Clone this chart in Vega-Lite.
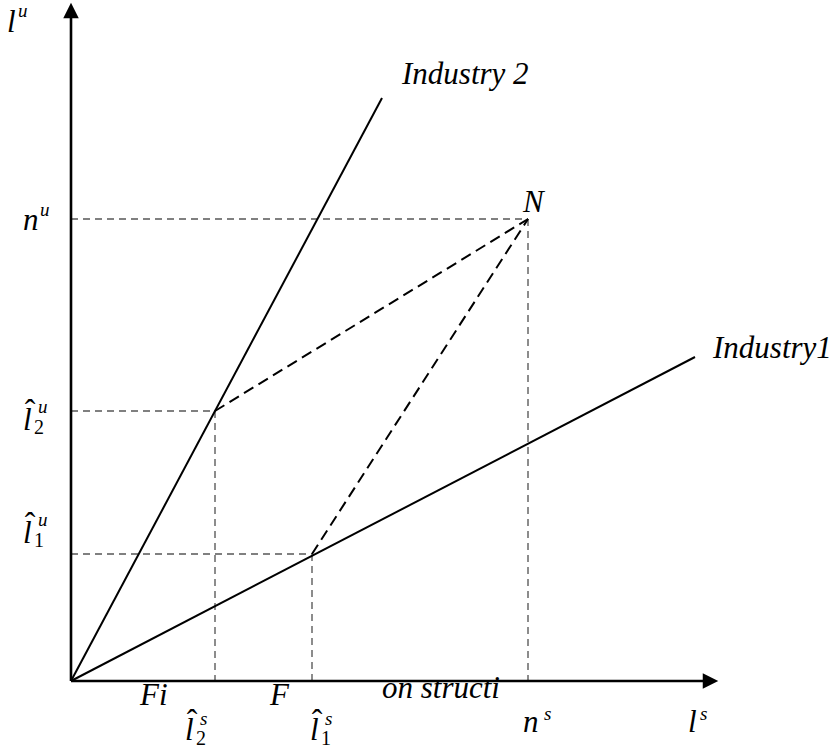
{
  "$schema": "https://vega.github.io/schema/vega-lite/v6.json",
  "width": 834,
  "height": 749,
  "autosize": {"type": "fit", "contains": "padding"},
  "padding": 0,
  "background": "white",
  "config": {"view": {"stroke": null}},
  "datasets": {
    "segs": [
      {"x1": 0, "y1": 0, "x2": 0, "y2": 66.3, "kind": "axis"},
      {"x1": 0, "y1": 0, "x2": 63.2, "y2": 0, "kind": "axis"},
      {"x1": 0, "y1": 0, "x2": 31.1, "y2": 58.3, "kind": "industry"},
      {"x1": 0, "y1": 0, "x2": 62.4, "y2": 32.4, "kind": "industry"},
      {"x1": 0, "y1": 46.2, "x2": 45.7, "y2": 46.2, "kind": "guide"},
      {"x1": 45.7, "y1": 46.2, "x2": 45.7, "y2": 0, "kind": "guide"},
      {"x1": 0, "y1": 27.0, "x2": 14.4, "y2": 27.0, "kind": "guide"},
      {"x1": 14.4, "y1": 27.0, "x2": 14.4, "y2": 0, "kind": "guide"},
      {"x1": 0, "y1": 12.7, "x2": 24.1, "y2": 12.7, "kind": "guide"},
      {"x1": 24.1, "y1": 12.7, "x2": 24.1, "y2": 0, "kind": "guide"},
      {"x1": 14.4, "y1": 27.0, "x2": 45.7, "y2": 46.2, "kind": "path"},
      {"x1": 24.1, "y1": 12.7, "x2": 45.7, "y2": 46.2, "kind": "path"}
    ],
    "arrows": [
      {"x": 0, "y": 67.05, "dir": "up"},
      {"x": 63.95, "y": 0, "dir": "right"}
    ],
    "labels": [
      {"text": "Industry 2", "x": 33.1, "y": 59.7, "role": "main"},
      {"text": "N", "x": 45.2, "y": 46.9, "role": "main"},
      {"text": "Industry1", "x": 64.2, "y": 32.3, "role": "main"},
      {"text": "l", "x": -6.4, "y": 64.9, "role": "main"},
      {"text": "u", "x": -5.3, "y": 66.4, "role": "sup"},
      {"text": "n", "x": -4.8, "y": 45.1, "role": "main"},
      {"text": "u", "x": -3.1, "y": 46.5, "role": "sup"},
      {"text": "l", "x": -4.8, "y": 25.1, "role": "main"},
      {"text": "ˆ", "x": -4.1, "y": 26.0, "role": "hat"},
      {"text": "2", "x": -3.7, "y": 24.7, "role": "sub"},
      {"text": "u", "x": -3.3, "y": 26.8, "role": "sup"},
      {"text": "l", "x": -4.8, "y": 13.8, "role": "main"},
      {"text": "ˆ", "x": -4.1, "y": 14.7, "role": "hat"},
      {"text": "1", "x": -3.7, "y": 13.4, "role": "sub"},
      {"text": "u", "x": -3.3, "y": 15.5, "role": "sup"},
      {"text": "l", "x": 11.4, "y": -5.9, "role": "main"},
      {"text": "ˆ", "x": 12.1, "y": -5.0, "role": "hat"},
      {"text": "s", "x": 12.9, "y": -4.4, "role": "sup"},
      {"text": "2", "x": 12.5, "y": -6.4, "role": "sub"},
      {"text": "l", "x": 23.9, "y": -5.9, "role": "main"},
      {"text": "ˆ", "x": 24.6, "y": -5.0, "role": "hat"},
      {"text": "s", "x": 25.4, "y": -4.4, "role": "sup"},
      {"text": "1", "x": 25.0, "y": -6.4, "role": "sub"},
      {"text": "n", "x": 45.2, "y": -5.1, "role": "main"},
      {"text": "s", "x": 47.3, "y": -3.9, "role": "sup"},
      {"text": "l", "x": 61.7, "y": -5.1, "role": "main"},
      {"text": "s", "x": 62.9, "y": -3.9, "role": "sup"},
      {"text": "Fi", "x": 6.9, "y": -2.4, "role": "main"},
      {"text": "F", "x": 19.9, "y": -2.4, "role": "main"},
      {"text": "on structi", "x": 31.1, "y": -1.7, "role": "main"}
    ]
  },
  "encoding": {
    "x": {"type": "quantitative", "scale": {"domain": [-7.1, 76.3], "nice": false, "zero": false}, "axis": null},
    "y": {"type": "quantitative", "scale": {"domain": [-6.8, 68.1], "nice": false, "zero": false}, "axis": null}
  },
  "layer": [
    {
      "data": {"name": "segs"},
      "transform": [{"filter": "datum.kind === 'guide'"}],
      "mark": {"type": "rule", "color": "#808080", "strokeWidth": 1.8, "strokeDash": [7, 5]},
      "encoding": {"x": {"field": "x1"}, "y": {"field": "y1"}, "x2": {"field": "x2"}, "y2": {"field": "y2"}}
    },
    {
      "data": {"name": "segs"},
      "transform": [{"filter": "datum.kind === 'path'"}],
      "mark": {"type": "rule", "color": "black", "strokeWidth": 2, "strokeDash": [11, 6]},
      "encoding": {"x": {"field": "x1"}, "y": {"field": "y1"}, "x2": {"field": "x2"}, "y2": {"field": "y2"}}
    },
    {
      "data": {"name": "segs"},
      "transform": [{"filter": "datum.kind === 'industry'"}],
      "mark": {"type": "rule", "color": "black", "strokeWidth": 2},
      "encoding": {"x": {"field": "x1"}, "y": {"field": "y1"}, "x2": {"field": "x2"}, "y2": {"field": "y2"}}
    },
    {
      "data": {"name": "segs"},
      "transform": [{"filter": "datum.kind === 'axis'"}],
      "mark": {"type": "rule", "color": "black", "strokeWidth": 2.6},
      "encoding": {"x": {"field": "x1"}, "y": {"field": "y1"}, "x2": {"field": "x2"}, "y2": {"field": "y2"}}
    },
    {
      "data": {"name": "arrows"},
      "transform": [{"filter": "datum.dir === 'up'"}],
      "mark": {"type": "point", "shape": "M-1,1L0,-1L1,1Z", "size": 240, "filled": true, "color": "black", "opacity": 1},
      "encoding": {"x": {"field": "x"}, "y": {"field": "y"}}
    },
    {
      "data": {"name": "arrows"},
      "transform": [{"filter": "datum.dir === 'right'"}],
      "mark": {"type": "point", "shape": "M-1,-1L1,0L-1,1Z", "size": 240, "filled": true, "color": "black", "opacity": 1},
      "encoding": {"x": {"field": "x"}, "y": {"field": "y"}}
    },
    {
      "data": {"name": "labels"},
      "transform": [{"filter": "datum.role === 'main'"}],
      "mark": {"type": "text", "font": "Liberation Serif", "fontStyle": "italic", "fontSize": 31, "align": "left", "baseline": "alphabetic", "color": "black"},
      "encoding": {"x": {"field": "x"}, "y": {"field": "y"}, "text": {"field": "text"}}
    },
    {
      "data": {"name": "labels"},
      "transform": [{"filter": "datum.role === 'sup'"}],
      "mark": {"type": "text", "font": "Liberation Serif", "fontStyle": "italic", "fontSize": 19, "align": "left", "baseline": "alphabetic", "color": "black"},
      "encoding": {"x": {"field": "x"}, "y": {"field": "y"}, "text": {"field": "text"}}
    },
    {
      "data": {"name": "labels"},
      "transform": [{"filter": "datum.role === 'sub'"}],
      "mark": {"type": "text", "font": "Liberation Serif", "fontSize": 20, "align": "left", "baseline": "alphabetic", "color": "black"},
      "encoding": {"x": {"field": "x"}, "y": {"field": "y"}, "text": {"field": "text"}}
    },
    {
      "data": {"name": "labels"},
      "transform": [{"filter": "datum.role === 'hat'"}],
      "mark": {"type": "text", "font": "Liberation Serif", "fontSize": 32, "align": "center", "baseline": "alphabetic", "color": "black"},
      "encoding": {"x": {"field": "x"}, "y": {"field": "y"}, "text": {"field": "text"}}
    }
  ]
}
